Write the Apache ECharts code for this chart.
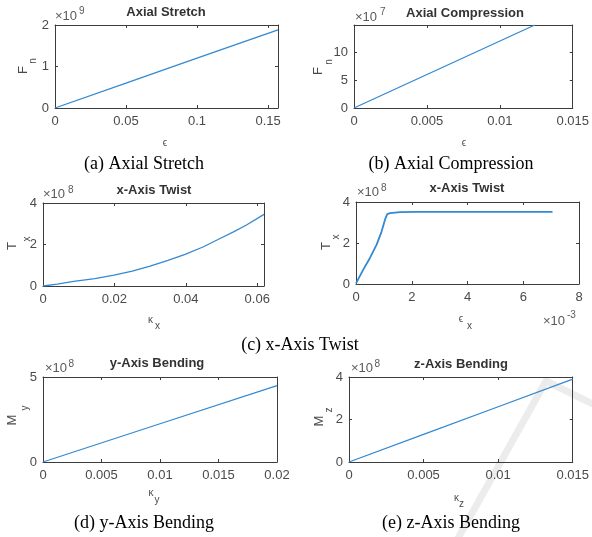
<!DOCTYPE html>
<html>
<head>
<meta charset="utf-8">
<title>Load response curves</title>
<script src="https://cdn.jsdelivr.net/npm/echarts@6/dist/echarts.min.js"></script>
<style>
  html, body { margin: 0; padding: 0; background: #ffffff; }
  #chart { width: 592px; height: 537px; }
</style>
</head>
<body>
<div id="chart"></div>
<script>
// ---- data (real units) ----
const stretchStrain = [0, 0.05, 0.1, 0.157];
const stretchForce = [0, 0.6e9, 1.2e9, 1.885e9];

const compressionStrain = [0, 0.0062, 0.0124];
const compressionForce = [0, 0.745e8, 1.49e8];

const twistCurvature = [0, 0.004, 0.0086, 0.0145, 0.0199, 0.025, 0.030, 0.035, 0.0398, 0.0448, 0.0496, 0.0535, 0.0570, 0.0619];
const twistTorqueByCurvature = [0, 0.09e8, 0.22e8, 0.36e8, 0.52e8, 0.72e8, 0.96e8, 1.23e8, 1.52e8, 1.88e8, 2.29e8, 2.62e8, 2.94e8, 3.45e8];

const twistShear = [0, 0.26e-3, 0.50e-3, 0.74e-3, 0.92e-3, 1.04e-3, 1.12e-3, 1.22e-3, 1.58e-3, 2.2e-3, 4.0e-3, 7.05e-3];
const twistTorqueByShear = [0.03e8, 0.70e8, 1.27e8, 1.92e8, 2.57e8, 3.14e8, 3.41e8, 3.46e8, 3.51e8, 3.52e8, 3.52e8, 3.52e8];

const yBendCurvature = [0, 0.01, 0.02];
const yBendMoment = [0, 2.25e8, 4.49e8];

const zBendCurvature = [0, 0.005, 0.01, 0.015];
const zBendMoment = [0, 1.3e8, 2.6e8, 3.9e8];

// axis limits: [min, max, tick step, label scale]
const stretchXAxis = [0, 0.157, 0.05, 1];
const stretchYAxis = [0, 2e9, 1e9, 1e9];
const compressionXAxis = [0, 0.015, 0.005, 1];
const compressionYAxis = [0, 1.49e8, 5e7, 1e7];
const curvTwistXAxis = [0, 0.0619, 0.02, 1];
const curvTwistYAxis = [0, 4e8, 2e8, 1e8];
const shearTwistXAxis = [0, 0.008, 0.002, 1e-3];
const shearTwistYAxis = [0, 4e8, 2e8, 1e8];
const yBendXAxis = [0, 0.02, 0.005, 1];
const yBendYAxis = [0, 5e8, 5e8, 1e8];
const zBendXAxis = [0, 0.015, 0.005, 1];
const zBendYAxis = [0, 4e8, 2e8, 1e8];

const panelTitles = ['Axial Stretch', 'Axial Compression', 'x-Axis Twist', 'x-Axis Twist', 'y-Axis Bending', 'z-Axis Bending'];
const captions = ['(a) Axial Stretch', '(b) Axial Compression', '(c) x-Axis Twist', '(d) y-Axis Bending', '(e) z-Axis Bending'];

// ---- layout ----
const FONT = "'Liberation Sans', Arial, Helvetica, sans-serif";
const SERIF = "'Liberation Serif', 'Times New Roman', serif";
const AXIS_COLOR = '#3c3c3c';
const TEXT_COLOR = '#4a4a4a';
const LINE_COLOR = '#3389d2';

const panels = [
  { box: [55, 25, 223, 83], x: stretchXAxis, y: stretchYAxis, xs: stretchStrain, ys: stretchForce, titleAt: [166, 14] },
  { box: [354, 25, 220, 83], x: compressionXAxis, y: compressionYAxis, xs: compressionStrain, ys: compressionForce, titleAt: [465, 15] },
  { box: [43, 203, 221, 83], x: curvTwistXAxis, y: curvTwistYAxis, xs: twistCurvature, ys: twistTorqueByCurvature, titleAt: [154, 192] },
  { box: [356, 202, 223, 82], x: shearTwistXAxis, y: shearTwistYAxis, xs: twistShear, ys: twistTorqueByShear, titleAt: [467, 190], width: 1.8 },
  { box: [43, 377, 234, 85], x: yBendXAxis, y: yBendYAxis, xs: yBendCurvature, ys: yBendMoment, titleAt: [157, 365] },
  { box: [349, 377, 224, 85], x: zBendXAxis, y: zBendYAxis, xs: zBendCurvature, ys: zBendMoment, titleAt: [461, 366] }
];

function tickFormatter(step, scale) {
  return function (v) {
    const r = v / step;
    if (Math.abs(r - Math.round(r)) > 1e-6) return '';
    return String(+(v / scale).toPrecision(10));
  };
}

function makeAxis(idx, lim, position, labelled) {
  return {
    type: 'value',
    gridIndex: idx,
    position: position,
    min: lim[0],
    max: lim[1],
    interval: lim[2],
    axisLine: { show: true, onZero: false, lineStyle: { color: AXIS_COLOR, width: 1 } },
    axisTick: { show: true, inside: true, length: 3, lineStyle: { color: AXIS_COLOR, width: 1 } },
    splitLine: { show: false },
    axisLabel: {
      show: labelled,
      margin: (position === 'left') ? 6 : 7,
      color: TEXT_COLOR,
      fontFamily: FONT,
      fontSize: 13,
      formatter: tickFormatter(lim[2], lim[3])
    }
  };
}

const grid = [], xAxis = [], yAxis = [], series = [], title = [];
panels.forEach(function (p, i) {
  grid.push({ left: p.box[0], top: p.box[1], width: p.box[2], height: p.box[3], containLabel: false });
  xAxis.push(makeAxis(i, p.x, 'bottom', true));
  xAxis.push(makeAxis(i, p.x, 'top', false));
  yAxis.push(makeAxis(i, p.y, 'left', true));
  yAxis.push(makeAxis(i, p.y, 'right', false));
  series.push({
    type: 'line',
    xAxisIndex: 2 * i,
    yAxisIndex: 2 * i,
    data: p.xs.map(function (x, k) { return [x, p.ys[k]]; }),
    showSymbol: false,
    symbol: 'none',
    lineStyle: { color: LINE_COLOR, width: p.width || 1.3 },
    silent: true,
    z: 3
  });
  title.push({
    text: panelTitles[i],
    left: p.titleAt[0],
    top: p.titleAt[1] - 8,
    textAlign: 'center',
    padding: 0,
    textStyle: { fontFamily: FONT, fontSize: 13, fontWeight: 'bold', color: '#333333' }
  });
});

// ---- text decorations: axis names with sub/superscripts, exponents, captions ----
const graphic = [];
function txt(s, x, y, size, opts) {
  opts = opts || {};
  graphic.push({
    type: 'text',
    x: x, y: y,
    rotation: opts.rotate ? Math.PI / 2 : 0,
    z: 10,
    silent: true,
    style: {
      text: s,
      fontFamily: opts.family || FONT,
      fontSize: size,
      fill: opts.color || TEXT_COLOR,
      align: opts.align || 'center',
      verticalAlign: 'middle'
    }
  });
}

// y-axis names (rotated)
txt('F', 23, 70, 13, { rotate: true });  txt('n', 33, 61, 10, { rotate: true });
txt('F', 318, 71, 13, { rotate: true }); txt('n', 329, 62, 10, { rotate: true });
txt('T', 12, 246, 13, { rotate: true }); txt('x', 27, 239, 10, { rotate: true });
txt('T', 326, 246, 13, { rotate: true }); txt('x', 336, 237, 10, { rotate: true });
txt('M', 12.5, 420, 13, { rotate: true }); txt('y', 25, 408, 10, { rotate: true });
txt('M', 319, 421, 13, { rotate: true }); txt('z', 329.5, 410, 10, { rotate: true });

// x-axis names
txt('\u03f5', 165, 143, 10);
txt('\u03f5', 464, 143, 10);
txt('\u03ba', 150.5, 320.5, 10); txt('x', 157.5, 326, 10);
txt('\u03f5', 461, 319.5, 10); txt('x', 469.5, 326, 10);
txt('\u03ba', 151, 493.5, 10); txt('y', 157, 500, 10);
txt('\u03ba', 456.5, 498.5, 10); txt('z', 461.5, 504.5, 10);

// exponent multipliers
const EXP = { align: 'left', color: '#5a5a5a' };
txt('\u00d710', 55, 16, 13, EXP);    txt('9', 79, 11, 10, EXP);
txt('\u00d710', 355, 17, 13, EXP);   txt('7', 380, 12, 10, EXP);
txt('\u00d710', 43, 194.5, 13, EXP); txt('8', 68, 190, 10, EXP);
txt('\u00d710', 357, 192.5, 13, EXP); txt('8', 381, 188, 10, EXP);
txt('\u00d710', 45, 368.5, 13, EXP); txt('8', 68.5, 364.5, 10, EXP);
txt('\u00d710', 351, 368.5, 13, EXP); txt('8', 374.5, 364.5, 10, EXP);
txt('\u00d710', 543, 321, 13, EXP);  txt('-3', 567, 315.5, 10, EXP);

// captions
const CAP = { family: SERIF, color: '#000000' };
txt(captions[0], 144, 164, 18, CAP);
txt(captions[1], 451, 164, 18, CAP);
txt(captions[2], 300, 345, 18, CAP);
txt(captions[3], 144, 523, 18, CAP);
txt(captions[4], 451, 523, 18, CAP);

// faint publisher mark in the lower right corner
graphic.push({
  type: 'polyline',
  z: -1,
  silent: true,
  shape: { points: [[457, 540], [546, 381], [595, 405]] },
  style: { stroke: '#ececec', lineWidth: 7, fill: null, lineJoin: 'round' }
});

const chart = echarts.init(document.getElementById('chart'), null, { renderer: 'canvas' });
chart.setOption({
  backgroundColor: '#ffffff',
  animation: false,
  title: title,
  grid: grid,
  xAxis: xAxis,
  yAxis: yAxis,
  series: series,
  graphic: graphic
});
</script>
</body>
</html>
